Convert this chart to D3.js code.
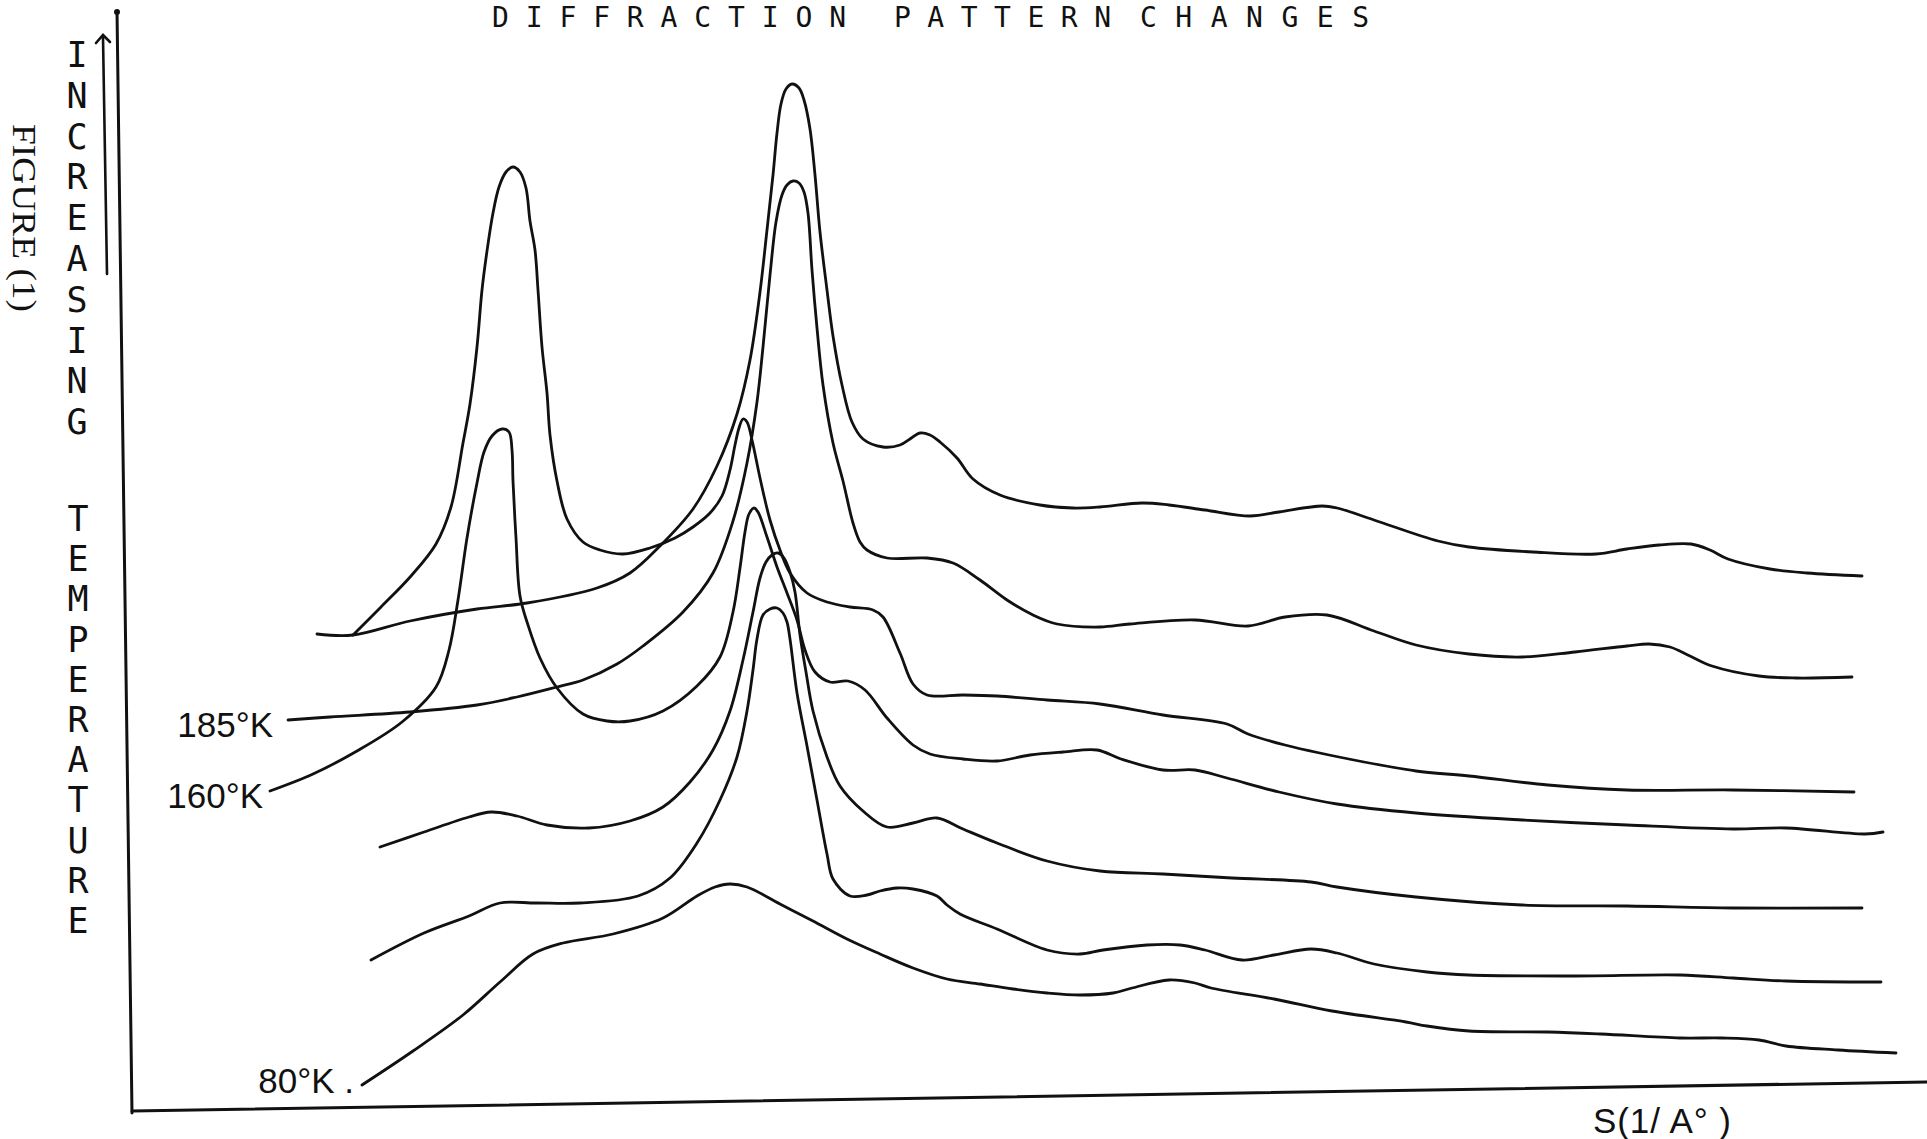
<!DOCTYPE html>
<html>
<head>
<meta charset="utf-8">
<script src="https://cdn.jsdelivr.net/npm/d3@7"></script>
<style>
  html, body { margin: 0; padding: 0; background: #fff; }
  svg { display: block; }
</style>
</head>
<body>
<svg id="chart" width="1927" height="1139"></svg>
<script>
// Stacked diffraction traces: [S, intensity + offset] in arbitrary units.

// Uppermost trace (begins with the short horizontal lead-in)
const traceTop = [
  [1.86,4.78],[2.22,4.77],[2.79,4.91],[3.46,5.03],[3.96,5.09],[4.66,5.24],[4.99,5.39],
  [5.29,5.66],[5.62,6.03],[5.86,6.46],[6.06,6.98],[6.19,7.52],[6.29,8.20],[6.36,8.82],
  [6.42,9.37],[6.46,9.79],[6.50,10.08],[6.55,10.23],[6.61,10.28],[6.68,10.24],[6.73,10.12],
  [6.79,9.83],[6.84,9.37],[6.89,8.80],[6.96,8.22],[7.02,7.76],[7.11,7.27],[7.21,6.90],
  [7.32,6.73],[7.52,6.65],[7.69,6.67],[7.79,6.73],[7.89,6.79],[7.99,6.77],[8.09,6.70],
  [8.26,6.54],[8.42,6.33],[8.69,6.17],[9.09,6.07],[9.42,6.04],[9.69,6.05],[10.11,6.09],
  [10.38,6.07],[10.74,6.02],[11.19,5.96],[11.48,6.00],[11.91,6.06],[12.06,6.04],[12.43,5.92],
  [13.07,5.71],[13.38,5.65],[14.02,5.60],[14.65,5.58],[14.96,5.63],[15.28,5.67],[15.60,5.68],
  [15.79,5.62],[15.97,5.53],[16.39,5.43],[16.76,5.39],[17.31,5.36]
];

// 185 K
const trace185K = [
  [1.57,3.92],[1.99,3.95],[2.79,4.00],[3.46,4.07],[3.86,4.15],[4.26,4.25],[4.52,4.32],
  [4.86,4.48],[5.12,4.66],[5.52,5.00],[5.82,5.39],[6.02,5.91],[6.16,6.49],[6.26,7.10],
  [6.32,7.65],[6.39,8.37],[6.45,8.90],[6.51,9.17],[6.56,9.27],[6.62,9.31],[6.68,9.29],
  [6.73,9.20],[6.77,8.99],[6.81,8.42],[6.86,7.84],[6.92,7.27],[7.02,6.69],[7.12,6.31],
  [7.22,5.89],[7.29,5.70],[7.36,5.62],[7.56,5.54],[7.96,5.54],[8.22,5.49],[8.49,5.32],
  [8.76,5.12],[9.02,4.97],[9.26,4.88],[9.69,4.85],[9.99,4.88],[10.64,4.92],[11.17,4.86],
  [11.54,4.95],[11.96,4.97],[12.43,4.81],[12.85,4.67],[13.38,4.58],[13.91,4.55],[14.44,4.60],
  [14.96,4.66],[15.18,4.68],[15.39,4.65],[15.59,4.56],[15.81,4.46],[16.28,4.36],[16.65,4.34],
  [17.21,4.35]
];

// Trace with the strong low-S peak (branches off the lead-in of the top trace)
const traceLowS = [
  [2.22,4.77],[2.50,5.05],[2.80,5.36],[3.05,5.68],[3.20,6.05],[3.32,6.69],
  [3.39,7.08],[3.46,7.65],[3.51,8.22],[3.56,8.61],[3.62,8.99],[3.68,9.25],[3.75,9.40],
  [3.82,9.45],[3.89,9.40],[3.95,9.24],[3.99,8.91],[4.04,8.62],[4.07,8.22],[4.11,7.65],
  [4.16,7.19],[4.19,6.77],[4.26,6.31],[4.36,5.93],[4.52,5.70],[4.69,5.62],[4.92,5.58],
  [5.19,5.64],[5.44,5.74],[5.62,5.85],[5.79,5.99],[5.91,6.16],[5.99,6.42],[6.04,6.67],
  [6.08,6.84],[6.12,6.93],[6.16,6.90],[6.21,6.72],[6.29,6.34],[6.39,5.92],[6.49,5.62],
  [6.59,5.39],[6.76,5.19],[6.96,5.10],[7.19,5.05],[7.42,5.02],[7.52,4.95],[7.69,4.59],
  [7.82,4.28],[7.96,4.17],[8.32,4.17],[8.66,4.16],[9.16,4.12],[9.69,4.08],[10.32,3.97],
  [10.96,3.88],[11.17,3.78],[11.54,3.67],[12.33,3.50],[12.85,3.41],[13.38,3.36],[14.17,3.27],
  [14.96,3.22],[16.02,3.22],[17.23,3.20]
];

// 160 K
const trace160K = [
  [1.39,3.21],[1.82,3.38],[2.26,3.61],[2.71,3.90],[3.05,4.25],[3.18,4.62],[3.27,5.12],
  [3.36,5.74],[3.46,6.29],[3.53,6.60],[3.61,6.76],[3.71,6.83],[3.78,6.80],[3.81,6.62],
  [3.82,6.31],[3.85,5.74],[3.89,5.16],[3.97,4.87],[4.09,4.54],[4.26,4.24],[4.52,3.98],
  [4.76,3.91],[4.99,3.91],[5.32,4.01],[5.66,4.26],[5.89,4.55],[6.02,5.00],[6.09,5.44],
  [6.14,5.80],[6.18,5.98],[6.23,6.04],[6.27,6.00],[6.36,5.75],[6.46,5.45],[6.56,5.19],
  [6.66,4.92],[6.74,4.62],[6.84,4.40],[6.99,4.30],[7.17,4.31],[7.34,4.22],[7.56,3.94],
  [7.82,3.67],[7.99,3.58],[8.32,3.53],[8.66,3.51],[8.99,3.57],[9.32,3.60],[9.66,3.62],
  [9.90,3.53],[10.32,3.42],[10.64,3.42],[10.96,3.34],[11.48,3.20],[12.06,3.08],[12.85,2.99],
  [13.91,2.92],[14.96,2.87],[16.02,2.83],[16.55,2.84],[17.34,2.78],[17.52,2.80]
];

// Intermediate low-temperature trace
const traceMidLow = [
  [2.49,2.65],[2.93,2.80],[3.38,2.95],[3.60,3.00],[3.86,2.96],[4.16,2.87],[4.58,2.84],
  [4.99,2.91],[5.32,3.05],[5.59,3.30],[5.82,3.62],[5.99,4.01],[6.12,4.52],[6.22,5.00],
  [6.29,5.34],[6.35,5.50],[6.41,5.57],[6.47,5.59],[6.53,5.54],[6.59,5.40],[6.64,5.20],
  [6.69,4.77],[6.75,4.40],[6.82,4.01],[6.96,3.55],[7.09,3.26],[7.32,3.01],[7.56,2.85],
  [7.82,2.89],[8.06,2.94],[8.32,2.83],[8.66,2.69],[9.16,2.51],[9.69,2.41],[10.32,2.38],
  [11.01,2.34],[11.80,2.30],[12.06,2.25],[12.85,2.15],[13.91,2.07],[14.96,2.06],[16.02,2.04],
  [17.31,2.04]
];

// Next trace above 80 K
const traceNear80K = [
  [2.40,1.52],[2.93,1.79],[3.38,1.96],[3.69,2.09],[4.05,2.09],[4.49,2.09],[5.07,2.16],
  [5.39,2.34],[5.66,2.69],[5.89,3.12],[6.06,3.55],[6.16,4.01],[6.22,4.42],[6.26,4.73],
  [6.32,4.97],[6.39,5.03],[6.46,5.04],[6.52,4.99],[6.56,4.90],[6.59,4.73],[6.66,4.19],
  [6.76,3.66],[6.86,3.12],[6.96,2.58],[7.02,2.33],[7.19,2.16],[7.36,2.17],[7.49,2.21],
  [7.66,2.24],[7.82,2.23],[8.06,2.16],[8.16,2.07],[8.29,1.98],[8.66,1.83],[9.16,1.62],
  [9.49,1.58],[9.72,1.62],[10.16,1.67],[10.49,1.67],[10.74,1.62],[11.11,1.52],[11.43,1.57],
  [11.80,1.63],[12.06,1.59],[12.43,1.48],[12.96,1.40],[13.38,1.37],[14.44,1.36],[15.49,1.37],
  [16.02,1.34],[16.55,1.31],[17.50,1.30]
];

// 80 K
const trace80K = [
  [2.31,0.27],[2.82,0.61],[3.32,0.97],[3.69,1.30],[4.02,1.58],[4.32,1.69],[4.82,1.78],
  [5.32,1.94],[5.66,2.16],[5.84,2.25],[5.99,2.28],[6.16,2.25],[6.49,2.08],[6.82,1.91],
  [7.16,1.73],[7.49,1.58],[7.82,1.44],[8.16,1.33],[8.49,1.28],[8.82,1.23],[9.16,1.19],
  [9.49,1.17],[9.82,1.19],[10.01,1.24],[10.38,1.32],[10.64,1.29],[10.80,1.24],[11.43,1.13],
  [12.01,1.01],[12.75,0.90],[12.96,0.86],[13.38,0.81],[14.17,0.80],[14.70,0.78],[15.49,0.74],
  [15.91,0.74],[16.28,0.72],[16.55,0.66],[17.07,0.62],[17.65,0.59]
];

// Temperature labels attached to the start of their traces
const labelNames = ["185°K", "160°K", "80°K"];
const labelTraces = [trace185K, trace160K, trace80K];

// Text
const titleWords = ["DIFFRACTION", "PATTERN", "CHANGES"];
const sideUpper = "INCREASING";
const sideLower = "TEMPERATURE";
const figureCaption = "FIGURE (1)";
const xAxisTitle = "S(1/ A° )";

// Hand-drawn frame: y axis leans slightly, x axis rises slightly to the right
const frameY = [[-0.14, 11.01], [0.01, -0.01]];
const frameX = [[0.01, 0.01], [17.96, 0.30]];

const svg = d3.select("#chart");
const x = d3.scaleLinear().domain([0, 18]).range([131, 1931]);
const y = d3.scaleLinear().domain([0, 11]).range([1112, 12]);

const ink = "#111";

// frame
const straight = d3.line().x(d => x(d[0])).y(d => y(d[1]));
svg.append("path").attr("d", straight(frameY))
  .attr("fill", "none").attr("stroke", ink).attr("stroke-width", 3).attr("stroke-linecap", "round");
svg.append("path").attr("d", straight(frameX))
  .attr("fill", "none").attr("stroke", ink).attr("stroke-width", 3).attr("stroke-linecap", "round");
svg.append("circle").attr("cx", x(frameY[0][0])).attr("cy", y(frameY[0][1]) + 1)
  .attr("r", 3).attr("fill", ink);

// traces
const smooth = d3.line()
  .x(d => x(d[0])).y(d => y(d[1]))
  .curve(d3.curveCatmullRom.alpha(0.5));

const traces = [traceTop, trace185K, traceLowS, trace160K, traceMidLow, traceNear80K, trace80K];
svg.append("g").selectAll("path").data(traces).join("path")
  .attr("d", smooth)
  .attr("fill", "none")
  .attr("stroke", ink)
  .attr("stroke-width", 2.8)
  .attr("stroke-linejoin", "round")
  .attr("stroke-linecap", "round");

// temperature labels
const labelGap = [15, 7, 8];
const labelDrop = [17, 17, 8];
svg.append("g").selectAll("text").data(labelNames).join("text")
  .attr("x", (d, i) => x(labelTraces[i][0][0]) - labelGap[i])
  .attr("y", (d, i) => y(labelTraces[i][0][1]) + labelDrop[i])
  .attr("text-anchor", "end")
  .attr("font-family", "Liberation Sans, Arial, sans-serif")
  .attr("font-size", 35)
  .attr("fill", ink)
  .text((d, i) => i === 2 ? d + " ." : d);

// title
const titleX = [492, 894, 1140];
const titleLen = [354, 217, 229];
svg.append("g").selectAll("text").data(titleWords).join("text")
  .attr("x", (d, i) => titleX[i])
  .attr("y", 27)
  .attr("textLength", (d, i) => titleLen[i])
  .attr("lengthAdjust", "spacing")
  .attr("font-family", "DejaVu Sans Mono, monospace")
  .attr("font-size", 28)
  .attr("fill", ink)
  .text(d => d);

// vertical stacked wording beside the axis
const sideGroup = svg.append("g")
  .attr("font-family", "DejaVu Sans Mono, monospace")
  .attr("font-size", 35)
  .attr("fill", ink)
  .attr("text-anchor", "middle");
sideGroup.selectAll("text.up").data(sideUpper.split("")).join("text")
  .attr("class", "up")
  .attr("x", 77)
  .attr("y", (d, i) => 54 + i * 40.8 + 13)
  .text(d => d);
sideGroup.selectAll("text.low").data(sideLower.split("")).join("text")
  .attr("class", "low")
  .attr("x", 78)
  .attr("y", (d, i) => 518 + i * 40.2 + 13)
  .text(d => d);

// upward arrow next to the wording
const arrow = svg.append("g").attr("stroke", ink).attr("stroke-width", 2.6)
  .attr("fill", "none").attr("stroke-linecap", "round");
arrow.append("line").attr("x1", 107).attr("y1", 274).attr("x2", 103).attr("y2", 37);
arrow.append("path").attr("d", "M96,43 L103,35 L110,42");

// rotated figure caption
svg.append("text")
  .attr("transform", "translate(13,124) rotate(90)")
  .attr("textLength", 188)
  .attr("lengthAdjust", "spacingAndGlyphs")
  .attr("font-family", "Liberation Serif, Times New Roman, serif")
  .attr("font-size", 33)
  .attr("fill", ink)
  .text(figureCaption);

// x-axis title
svg.append("text")
  .attr("x", 1593)
  .attr("y", 1133)
  .attr("textLength", 138)
  .attr("lengthAdjust", "spacing")
  .attr("font-family", "Liberation Sans, Arial, sans-serif")
  .attr("font-size", 35)
  .attr("fill", ink)
  .text(xAxisTitle);
</script>
</body>
</html>
